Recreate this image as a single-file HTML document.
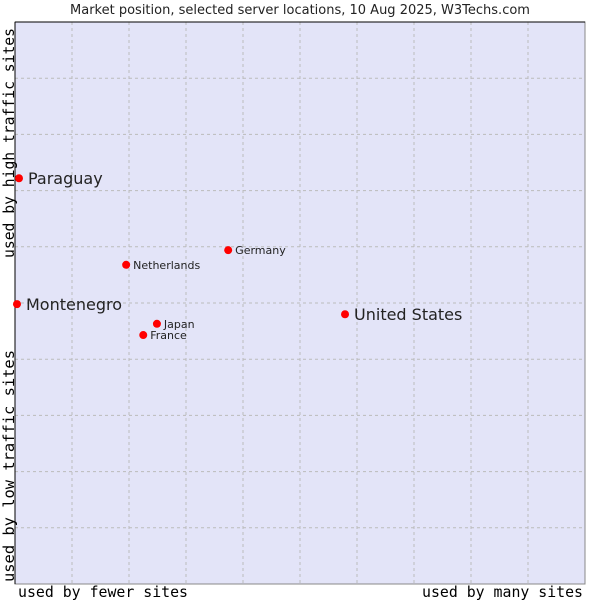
<!DOCTYPE html>
<html><head><meta charset="utf-8"><style>
body{margin:0;background:#fff;}
svg text{font-family:"DejaVu Sans","Liberation Sans",sans-serif;fill:#222;}
.mono{font-family:"DejaVu Sans Mono","Liberation Mono",monospace !important;fill:#000;}
</style></head><body>
<svg id="chart" width="600" height="600">
<text x="300" y="14" text-anchor="middle" font-size="13">Market position, selected server locations, 10 Aug 2025, W3Techs.com</text>
<rect x="15" y="22" width="570" height="562" fill="#e3e4f8" stroke="#888"/>
<g id="grid"></g>
<line x1="15" y1="22" x2="585" y2="22" stroke="#000"/>
<line x1="15" y1="22" x2="15" y2="584" stroke="#000"/>
<g id="points"></g>
<text class="mono" x="18" y="597" font-size="15" textLength="170" lengthAdjust="spacingAndGlyphs">used by fewer sites</text>
<text class="mono" x="422" y="597" font-size="15" textLength="161" lengthAdjust="spacingAndGlyphs">used by many sites</text>
<text class="mono" transform="translate(14,258) rotate(-90)" font-size="15" textLength="230" lengthAdjust="spacingAndGlyphs">used by high traffic sites</text>
<text class="mono" transform="translate(14,582) rotate(-90)" font-size="15" textLength="232" lengthAdjust="spacingAndGlyphs">used by low traffic sites</text>
</svg>
<script>
const names=["Paraguay","Montenegro","United States","Germany","Netherlands","Japan","France"];
const xs=[0.7,0.35,57.9,37.4,19.5,24.9,22.5];
const ys=[72.2,49.8,48.0,59.4,56.8,46.3,44.3];
const big=[true,true,true,false,false,false,false];
const NS="http://www.w3.org/2000/svg";
const X0=15,X1=585,Y0=584,Y1=22;
const sx=v=>X0+v/100*(X1-X0), sy=v=>Y0-v/100*(Y0-Y1);
const grid=document.getElementById('grid');
for(let i=1;i<10;i++){
 const l=document.createElementNS(NS,'line');
 l.setAttribute('x1',sx(i*10));l.setAttribute('x2',sx(i*10));l.setAttribute('y1',Y1);l.setAttribute('y2',Y0);
 l.setAttribute('stroke','#bbb');l.setAttribute('stroke-dasharray','3,3');
 
 
 grid.appendChild(l);
 const h=document.createElementNS(NS,'line');
 h.setAttribute('y1',sy(i*10));h.setAttribute('y2',sy(i*10));h.setAttribute('x1',X0);h.setAttribute('x2',X1);
 h.setAttribute('stroke','#bbb');h.setAttribute('stroke-dasharray','3,3');
 
 
 grid.appendChild(h);
}
const pts=document.getElementById('points');
names.forEach((n,i)=>{
 const x=sx(xs[i]),y=sy(ys[i]);
 const c=document.createElementNS(NS,'circle');
 c.setAttribute('cx',x);c.setAttribute('cy',y);c.setAttribute('r',4);c.setAttribute('fill','#f00');
 
 
 pts.appendChild(c);
 const t=document.createElementNS(NS,'text');
 t.setAttribute('x',x+(big[i]?9:7));t.setAttribute('y',y+(big[i]?6:4));
 t.setAttribute('font-size',big[i]?16:11);
 t.textContent=n;
 
 
 pts.appendChild(t);
});
</script>
</body></html>
